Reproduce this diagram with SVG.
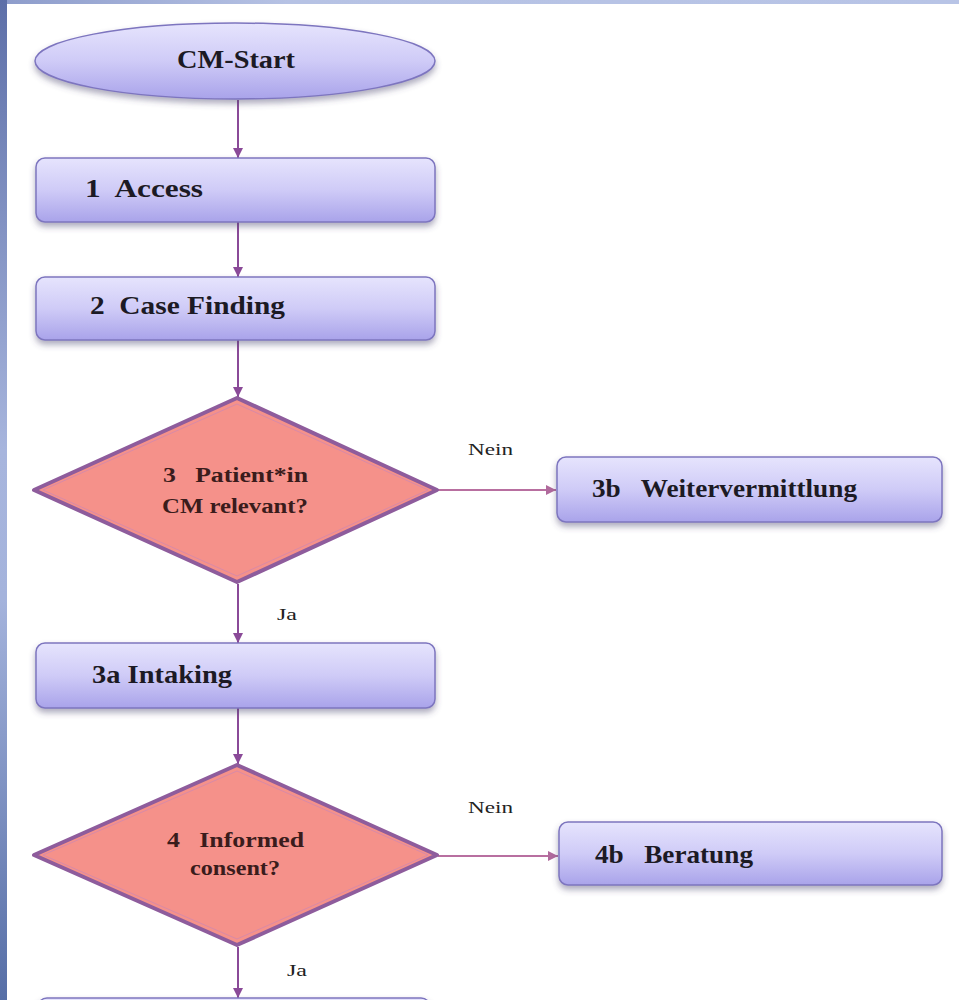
<svg xmlns="http://www.w3.org/2000/svg" width="959" height="1000" viewBox="0 0 959 1000">
<defs>
<linearGradient id="gBox" x1="0" y1="0" x2="0" y2="1">
<stop offset="0" stop-color="#e6e4fd"/>
<stop offset="0.5" stop-color="#cfcbf7"/>
<stop offset="1" stop-color="#a9a3ea"/>
</linearGradient>
<linearGradient id="gLeft" x1="0" y1="0" x2="0" y2="1">
<stop offset="0" stop-color="#5d6fa8"/>
<stop offset="0.45" stop-color="#a7b5dd"/>
<stop offset="0.6" stop-color="#a4b3dc"/>
<stop offset="1" stop-color="#566ea6"/>
</linearGradient>
<linearGradient id="gTop" x1="0" y1="0" x2="1" y2="0">
<stop offset="0" stop-color="#8d9ccb"/>
<stop offset="0.3" stop-color="#b6c2e4"/>
<stop offset="1" stop-color="#b8c4e6"/>
</linearGradient>
<filter id="sh" x="-10%" y="-20%" width="120%" height="160%">
<feDropShadow dx="0" dy="4" stdDeviation="3" flood-color="#4a4470" flood-opacity="0.45"/>
</filter>
<marker id="ah" viewBox="0 0 10 10" refX="10" refY="5" markerWidth="10" markerHeight="10" markerUnits="userSpaceOnUse" orient="auto">
<path d="M0,0 L10,5 L0,10 z" fill="#8a4a98"/>
</marker>
<marker id="ahp" viewBox="0 0 10 10" refX="10" refY="5" markerWidth="10" markerHeight="10" markerUnits="userSpaceOnUse" orient="auto">
<path d="M0,0 L10,5 L0,10 z" fill="#b06a9c"/>
</marker>
<style>
.box{fill:url(#gBox);stroke:#7d75bf;stroke-width:1.5;filter:url(#sh)}
.dia{fill:#f5918a;stroke:#8e5c9c;stroke-width:4;stroke-linejoin:round}
.diaIn{fill:none;stroke:#d88aa8;stroke-width:1}
.lbl{font-family:"Liberation Serif","Times New Roman",serif;font-weight:bold;font-size:25px;fill:#1c1a24}
.dlbl{font-family:"Liberation Serif","Times New Roman",serif;font-weight:bold;font-size:20px;fill:#3a1c1c}
.edge{font-family:"Liberation Serif","Times New Roman",serif;font-size:16px;fill:#222}
.v{stroke:#8a4a98;stroke-width:2;fill:none}
.h{stroke:#b86fa0;stroke-width:2;fill:none}
</style>
</defs>
<rect x="0" y="0" width="959" height="1000" fill="#ffffff"/>
<rect x="0" y="0" width="959" height="4" fill="url(#gTop)"/>
<rect x="0" y="0" width="7" height="1000" fill="url(#gLeft)"/>

<g id="connectors">
<line class="v" x1="238" y1="100" x2="238" y2="158" marker-end="url(#ah)"/>
<line class="v" x1="238" y1="222" x2="238" y2="277" marker-end="url(#ah)"/>
<line class="v" x1="238" y1="340" x2="238" y2="397" marker-end="url(#ah)"/>
<line class="h" x1="438" y1="490" x2="556" y2="490" marker-end="url(#ahp)"/>
<line class="v" x1="238" y1="584" x2="238" y2="643" marker-end="url(#ah)"/>
<line class="v" x1="238" y1="708" x2="238" y2="764" marker-end="url(#ah)"/>
<line class="h" x1="438" y1="856" x2="558" y2="856" marker-end="url(#ahp)"/>
<line class="v" x1="238" y1="947" x2="238" y2="998" marker-end="url(#ah)"/>
<text class="edge" x="468" y="455" textLength="45" lengthAdjust="spacingAndGlyphs">Nein</text>
<text class="edge" x="277" y="620" textLength="20" lengthAdjust="spacingAndGlyphs">Ja</text>
<text class="edge" x="468" y="813" textLength="45" lengthAdjust="spacingAndGlyphs">Nein</text>
<text class="edge" x="287" y="976" textLength="20" lengthAdjust="spacingAndGlyphs">Ja</text>
</g>

<g id="start">
<ellipse cx="235" cy="61" rx="200" ry="38" fill="url(#gBox)" stroke="#7d75bf" stroke-width="1.5" filter="url(#sh)"/>
<text class="lbl" x="177" y="68" font-size="22" textLength="118" lengthAdjust="spacingAndGlyphs">CM-Start</text>
</g>

<g id="n1">
<rect class="box" x="36" y="158" width="399" height="64" rx="9"/>
<text class="lbl" x="85" y="197" xml:space="preserve" textLength="118" lengthAdjust="spacingAndGlyphs">1  Access</text>
</g>

<g id="n2">
<rect class="box" x="36" y="277" width="399" height="63" rx="9"/>
<text class="lbl" x="90" y="314" xml:space="preserve" textLength="195" lengthAdjust="spacingAndGlyphs">2  Case Finding</text>
</g>

<g id="n3">
<polygon class="dia" points="237,398 437,490 237,582 34,490"/>
<polygon class="diaIn" points="237,404 428,490 237,576 43,490"/>
<text class="dlbl" x="163" y="482" xml:space="preserve" textLength="145" lengthAdjust="spacingAndGlyphs">3   Patient*in</text>
<text class="dlbl" x="162" y="513" textLength="146" lengthAdjust="spacingAndGlyphs">CM relevant?</text>
</g>

<g id="n3b">
<rect class="box" x="557" y="457" width="385" height="65" rx="9"/>
<text class="lbl" x="592" y="497" xml:space="preserve" textLength="265" lengthAdjust="spacingAndGlyphs">3b   Weitervermittlung</text>
</g>

<g id="n3a">
<rect class="box" x="36" y="643" width="399" height="65" rx="9"/>
<text class="lbl" x="92" y="683" xml:space="preserve" textLength="140" lengthAdjust="spacingAndGlyphs">3a Intaking</text>
</g>

<g id="n4">
<polygon class="dia" points="237,765 437,855 237,945 34,855"/>
<polygon class="diaIn" points="237,771 428,855 237,939 43,855"/>
<text class="dlbl" x="167" y="847" xml:space="preserve" textLength="137" lengthAdjust="spacingAndGlyphs">4   Informed</text>
<text class="dlbl" x="190" y="875" textLength="90" lengthAdjust="spacingAndGlyphs">consent?</text>
</g>

<g id="n4b">
<rect class="box" x="559" y="822" width="383" height="63" rx="9"/>
<text class="lbl" x="595" y="863" xml:space="preserve" textLength="158" lengthAdjust="spacingAndGlyphs">4b   Beratung</text>
</g>

<g id="n5">
<rect class="box" x="38" y="998" width="392" height="60" rx="9"/>
</g>
</svg>
